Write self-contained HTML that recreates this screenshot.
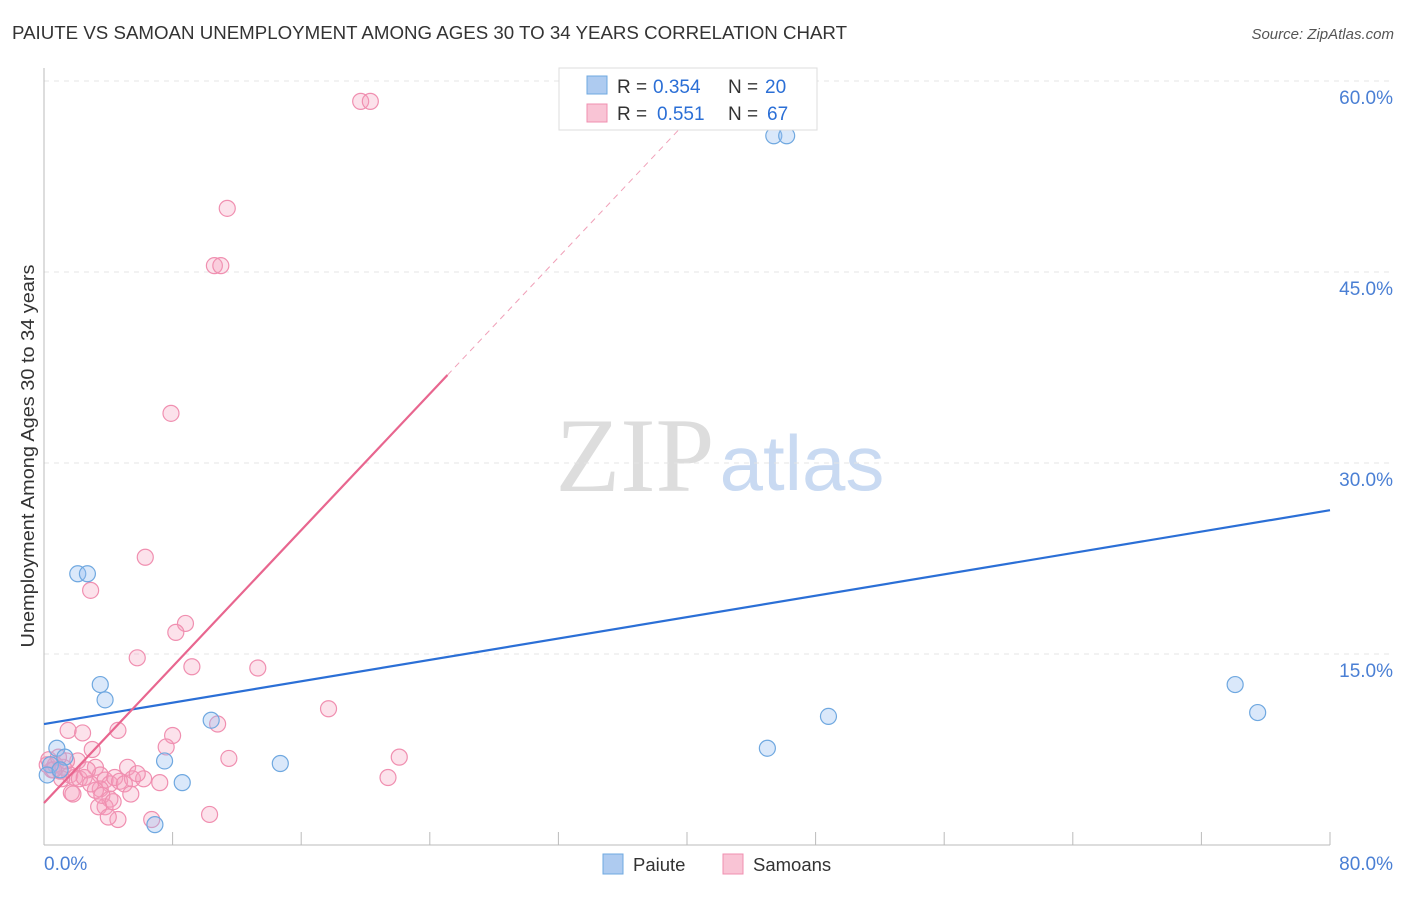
<!DOCTYPE html>
<html><head><meta charset="utf-8"><style>
body{margin:0;background:#fff;font-family:"Liberation Sans",sans-serif}
</style></head><body>
<svg id="c" width="1406" height="892" xmlns="http://www.w3.org/2000/svg" font-family="Liberation Sans, sans-serif">
<text x="12" y="39" font-size="18" fill="#333" textLength="835" lengthAdjust="spacingAndGlyphs">PAIUTE VS SAMOAN UNEMPLOYMENT AMONG AGES 30 TO 34 YEARS CORRELATION CHART</text>
<text x="1394" y="39" font-size="15" fill="#555" font-style="italic" text-anchor="end">Source: ZipAtlas.com</text>
<text x="34" y="456" font-size="18.5" fill="#333" text-anchor="middle" textLength="383" lengthAdjust="spacingAndGlyphs" transform="rotate(-90 34 456)">Unemployment Among Ages 30 to 34 years</text>
<g><text x="635" y="491" font-size="106" fill="#ddd" font-family="Liberation Serif, serif" text-anchor="middle">ZIP</text><text x="802" y="490" font-size="78" fill="#c9daf2" text-anchor="middle">atlas</text></g>
<g id="grid"></g><g id="axes"></g><g id="pts"></g><g id="lines"></g>
<g>
<rect x="559" y="68" width="258" height="62" fill="#fff" stroke="#ddd"/>
<rect x="587" y="76" width="20" height="18" fill="#aecbf0" stroke="#6fa8e0"/>
<text x="617" y="93" font-size="19" fill="#333">R =</text><text x="653" y="93" font-size="19" fill="#2b6fd6">0.354</text>
<text x="728" y="93" font-size="19" fill="#333">N =</text><text x="765" y="93" font-size="19" fill="#2b6fd6">20</text>
<rect x="587" y="104" width="20" height="18" fill="#f9c4d5" stroke="#f08fb0"/>
<text x="617" y="120" font-size="19" fill="#333">R =</text><text x="657" y="120" font-size="19" fill="#2b6fd6">0.551</text>
<text x="728" y="120" font-size="19" fill="#333">N =</text><text x="767" y="120" font-size="19" fill="#2b6fd6">67</text>
</g>
<g>
<rect x="603" y="854" width="20" height="20" fill="#aecbf0" stroke="#6fa8e0"/>
<text x="633" y="871" font-size="18.5" fill="#333">Paiute</text>
<rect x="723" y="854" width="20" height="20" fill="#f9c4d5" stroke="#f08fb0"/>
<text x="753" y="871" font-size="18.5" fill="#333">Samoans</text>
</g>
</svg>
<script>
const yTicks=[15,30,45,60];
const yTickLabels=["15.0%","30.0%","45.0%","60.0%"];
const xTicks=[0,8,16,24,32,40,48,56,64,72,80];
const paiuteX=[0.8,1.3,2.1,2.7,3.5,3.8,7.5,8.6,6.9,10.4,14.7,45.0,48.8,45.4,46.2,74.1,75.5,0.4,0.2,1.0];
const paiuteY=[7.6,6.9,21.3,21.3,12.6,11.4,6.6,4.9,1.6,9.8,6.4,7.6,10.1,55.7,55.7,12.6,10.4,6.3,5.5,5.9];
const samoaX=[19.7,20.3,11.4,10.6,11.0,7.9,6.3,2.9,8.8,8.2,5.8,9.2,13.3,17.7,10.8,4.6,8.0,2.4,1.5,7.6,3.0,11.5,22.1,21.4,0.2,0.5,0.7,1.0,1.2,1.6,1.9,2.2,2.5,3.2,3.5,3.8,4.1,4.4,4.7,5.2,5.5,6.2,5.0,3.5,4.1,3.8,3.4,4.6,4.0,6.7,10.3,1.7,1.1,0.6,2.1,1.4,2.7,3.2,3.6,5.4,0.3,0.9,1.8,2.9,4.3,5.8,7.2];
const samoaY=[58.4,58.4,50.0,45.5,45.5,33.9,22.6,20.0,17.4,16.7,14.7,14.0,13.9,10.7,9.5,9.0,8.6,8.8,9.0,7.7,7.5,6.8,6.9,5.3,6.3,5.9,6.3,5.8,6.1,5.5,5.3,5.2,5.3,6.1,5.5,5.1,4.8,5.3,5.0,6.1,5.2,5.2,4.8,4.4,3.6,3.0,3.0,2.0,2.2,2.0,2.4,4.1,5.2,5.9,6.6,6.6,5.9,4.3,3.9,4.0,6.7,6.9,4.0,4.8,3.4,5.6,4.9];
const trendSlope=[0.2099,1.339];
const trendIntercept=[9.5,3.3];
const X=v=>44+v*16.075, Y=v=>845-v*12.733;
const NS="http://www.w3.org/2000/svg";
function mk(t,a,p){const e=document.createElementNS(NS,t);for(const k in a)e.setAttribute(k,a[k]);document.getElementById(p).appendChild(e);return e;}
yTicks.forEach((v,i)=>{
 const l=mk('line',{x1:44,x2:1394,y1:Y(v),y2:Y(v),stroke:'#e4e4e4','stroke-dasharray':'5,5'},'grid');
 
 
 const t=mk('text',{x:1393,y:Y(v)+23,'font-size':19,fill:'#4a7fd4','text-anchor':'end'},'grid');t.textContent=yTickLabels[i];
 
 
});
const xa=mk('line',{x1:44,x2:1330,y1:845,y2:845,stroke:'#bbb'},'axes');


const ya=mk('line',{x1:44,x2:44,y1:68,y2:845,stroke:'#bbb'},'axes');


xTicks.forEach(v=>{const t=mk('line',{x1:X(v),x2:X(v),y1:832,y2:845,stroke:'#bbb'},'axes');
 
 });
let t1=mk('text',{x:44,y:870,'font-size':19,fill:'#4a7fd4'},'axes');t1.textContent='0.0%';


let t2=mk('text',{x:1393,y:870,'font-size':19,fill:'#4a7fd4','text-anchor':'end'},'axes');t2.textContent='80.0%';


samoaX.forEach((x,i)=>{const c=mk('circle',{cx:X(x),cy:Y(samoaY[i]),r:8,fill:'rgba(245,160,190,0.3)',stroke:'#f08fb0','stroke-width':1.2},'pts');
 
 });
paiuteX.forEach((x,i)=>{const c=mk('circle',{cx:X(x),cy:Y(paiuteY[i]),r:8,fill:'rgba(150,190,240,0.35)',stroke:'#6fa8e0','stroke-width':1.2},'pts');
 
 });
const b=mk('line',{x1:X(0),y1:Y(trendIntercept[0]),x2:X(80),y2:Y(trendIntercept[0]+80*trendSlope[0]),stroke:'#2b6fd6','stroke-width':2.2},'lines');


const p=mk('line',{x1:X(0),y1:Y(trendIntercept[1]),x2:X(25.1),y2:Y(trendIntercept[1]+25.1*trendSlope[1]),stroke:'#e8668f','stroke-width':2.2},'lines');


const pd=mk('line',{x1:X(25.1),y1:Y(trendIntercept[1]+25.1*trendSlope[1]),x2:X(42.3),y2:Y(trendIntercept[1]+42.3*trendSlope[1]),stroke:'#f0a0b8','stroke-width':1,'stroke-dasharray':'6,5'},'lines');


</script>
</body></html>
